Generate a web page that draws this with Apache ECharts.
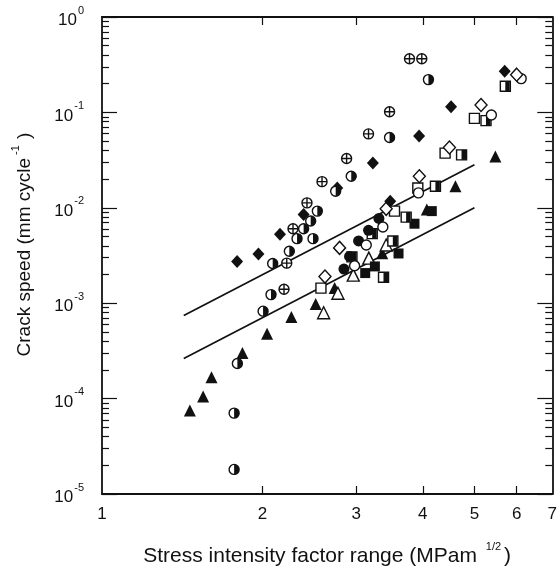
<!DOCTYPE html>
<html><head><meta charset="utf-8">
<script src="https://cdn.jsdelivr.net/npm/echarts@6/dist/echarts.min.js"></script>
<style>html,body{margin:0;padding:0;background:#fff}#c{width:560px;height:572px}</style>
</head><body><div id="c"></div>
<script>
// ---- data (x: stress intensity factor range, y: crack speed) ----
const crossedCircle = [[3.777,0.365],[3.983,0.365],[3.465,0.1016],[3.164,0.0595],[2.878,0.0329],[2.588,0.0188],[2.425,0.01127],[2.283,0.00604],[2.222,0.00263],[2.196,0.0014]];
const halfCircle = [[4.099,0.2207],[3.465,0.0545],[2.936,0.0214],[2.745,0.0149],[2.536,0.00923],[2.464,0.00726],[2.390,0.00604],[2.323,0.00475],[2.489,0.00475],[2.247,0.00351],[2.091,0.00261],[2.076,0.00123],[2.006,0.000825],[1.795,0.000233],[1.770,0.0000704],[1.770,0.0000181]];
const filledDiamond = [[5.699,0.2696],[4.520,0.1146],[3.937,0.0567],[3.224,0.0294],[2.764,0.01615],[2.390,0.00852],[2.158,0.00528],[1.966,0.00327],[1.793,0.00274],[3.475,0.01173]];
const filledCircle = [[3.309,0.00774],[3.164,0.00581],[3.031,0.00449],[2.915,0.00309],[2.845,0.00228]];
const openDiamond = [[6.001,0.2487],[5.145,0.1193],[4.488,0.0428],[3.941,0.0214],[2.792,0.0038],[2.621,0.0019],[3.415,0.00975]];
const openCircle = [[6.12,0.226],[5.38,0.0938],[3.926,0.01433],[3.366,0.00629],[3.133,0.00408],[2.979,0.00247]];
const openSquare = [[5.0,0.0866],[4.405,0.0374],[3.915,0.01615],[3.540,0.00923],[2.576,0.00144]];
const halfSquare = [[5.715,0.188],[5.257,0.0819],[4.73,0.0359],[4.225,0.0168],[3.723,0.00799],[3.515,0.00449],[3.376,0.00187],[3.215,0.00536],[2.945,0.00306]];
const filledSquare = [[3.859,0.00681],[3.602,0.00332],[3.252,0.00243],[3.119,0.00207],[4.159,0.00923]];
const filledTriangle = [[5.474,0.0345],[4.606,0.0168],[4.07,0.0096],[3.357,0.00334],[2.733,0.00144],[2.518,0.00098],[2.267,0.000715],[2.041,0.000479],[1.835,0.000301],[1.605,0.000167],[1.548,0.000105],[1.462,0.000075]];
const openTriangle = [[3.415,0.00408],[3.168,0.00297],[2.962,0.00197],[2.772,0.00127],[2.606,0.000793]];
const upperLine = [[1.424,0.000744],[5.0,0.0283]];
const lowerLine = [[1.424,0.000263],[5.0,0.0100]];

// ---- ticks ----
const xTickLabels = [1,2,3,4,5,6,7];
const xTicks = [2,3,4,5,6];
const yDecades = [1e-5,1e-4,1e-3,1e-2,1e-1,1];
const yMinorMult = [2,3,4,5,6,7,8,9];
const yMinor = [];
[1e-5,1e-4,1e-3,1e-2,1e-1].forEach(d => yMinorMult.forEach(m => yMinor.push(+(m*d).toPrecision(3))));

const FONT = '"Liberation Sans", Arial, sans-serif';
const K = '#111';

function scat(data, symbol, size, fill, extra) {
  return Object.assign({
    type: 'scatter', data: data, symbol: symbol, symbolSize: size,
    itemStyle: {color: fill, borderColor: K, borderWidth: fill === '#fff' || fill === 'transparent' ? 1.4 : 0, opacity: 1},
    emphasis: {disabled: true}, silent: true, z: 3
  }, extra || {});
}
const HALF_DISC = 'path://M0,0 A10,10 0 0 1 0,20 Z';
const CROSS = 'path://M0,10 L20,10 M10,0 L10,20';

const baseX = {
  type: 'log', logBase: 10, min: 1, max: 7,
  axisLine: {show: true, onZero: false, lineStyle: {color: K, width: 1.8}},
  splitLine: {show: false}
};
const baseY = {
  type: 'log', logBase: 10, min: 1e-5, max: 1,
  axisLine: {show: true, onZero: false, lineStyle: {color: K, width: 1.8}},
  splitLine: {show: false}
};
function ticks(vals, len) {
  return {show: true, inside: true, length: len, customValues: vals, lineStyle: {color: K, width: 1.2}};
}

const chart = echarts.init(document.getElementById('c'), null, {renderer: 'canvas'});
chart.setOption({
  animation: false,
  backgroundColor: '#fff',
  grid: {left: 102, right: 7, top: 17, bottom: 74},
  xAxis: [
    Object.assign({}, baseX, {
      position: 'bottom',
      axisTick: ticks(xTicks, 8),
      axisLabel: {customValues: xTickLabels, color: K, fontSize: 17, fontFamily: FONT, margin: 12},
      name: '{a|Stress intensity factor range (MPam }{s|1/2}{a|)}',
      nameLocation: 'middle', nameGap: 47,
      nameTextStyle: {rich: {
        a: {fontSize: 21, fontFamily: FONT, color: K, lineHeight: 26, verticalAlign: 'bottom'},
        s: {fontSize: 11, fontFamily: FONT, color: K, lineHeight: 26, verticalAlign: 'top', padding: [0, 3, 0, 3]}
      }}
    }),
    Object.assign({}, baseX, {
      position: 'top',
      axisTick: ticks(xTicks, 8),
      axisLabel: {show: false}
    })
  ],
  yAxis: [
    Object.assign({}, baseY, {
      position: 'left',
      axisTick: ticks(yDecades, 15),
      axisLabel: {
        customValues: yDecades, margin: 18,
        formatter: v => { const e = Math.round(Math.log10(v)); return '{a|10}{s|' + (e < 0 ? '-' + (-e) : e) + '}'; },
        rich: {
          a: {fontSize: 17, fontFamily: FONT, color: K, lineHeight: 24, verticalAlign: 'bottom'},
          s: {fontSize: 11, fontFamily: FONT, color: K, lineHeight: 24, verticalAlign: 'top', padding: [0, 0, 0, 1]}
        }
      },
      name: '{a|Crack speed (mm cycle}{s|-1}{a| )}',
      nameLocation: 'middle', nameGap: 68,
      nameTextStyle: {padding: [0, 0, 0, 22], rich: {
        a: {fontSize: 19, fontFamily: FONT, color: K, lineHeight: 24, verticalAlign: 'bottom'},
        s: {fontSize: 11, fontFamily: FONT, color: K, lineHeight: 24, verticalAlign: 'top', padding: [0, 1, 0, 3]}
      }}
    }),
    Object.assign({}, baseY, {
      position: 'left', axisLine: {show: false},
      axisTick: ticks(yMinor, 7),
      axisLabel: {show: false}
    }),
    Object.assign({}, baseY, {
      position: 'right',
      axisTick: ticks(yDecades, 15),
      axisLabel: {show: false}
    }),
    Object.assign({}, baseY, {
      position: 'right', axisLine: {show: false},
      axisTick: ticks(yMinor, 7),
      axisLabel: {show: false}
    })
  ],
  series: [
    {type: 'line', data: upperLine, symbol: 'none', lineStyle: {color: K, width: 1.7}, silent: true, z: 2},
    {type: 'line', data: lowerLine, symbol: 'none', lineStyle: {color: K, width: 1.7}, silent: true, z: 2},
    scat(filledTriangle, 'triangle', 12, K),
    scat(openTriangle, 'triangle', 12, '#fff'),
    scat(filledSquare, 'rect', 10, K),
    scat(openSquare, 'rect', 10, '#fff'),
    scat(halfSquare, 'rect', 10, '#fff'),
    scat(halfSquare, 'rect', [4.5, 10], K, {symbolOffset: [2.2, 0]}),
    scat(filledCircle, 'circle', 11, K),
    scat(openCircle, 'circle', 10, '#fff'),
    scat(openDiamond, 'diamond', [12, 13], '#fff'),
    scat(filledDiamond, 'diamond', [12, 13], K),
    scat(halfCircle, 'circle', 10, '#fff'),
    scat(halfCircle, HALF_DISC, [5, 10], K, {symbolOffset: [2.5, 0]}),
    scat(crossedCircle, 'circle', 10, '#fff'),
    scat(crossedCircle, CROSS, 10, 'transparent')
  ]
});
</script>
</body></html>
